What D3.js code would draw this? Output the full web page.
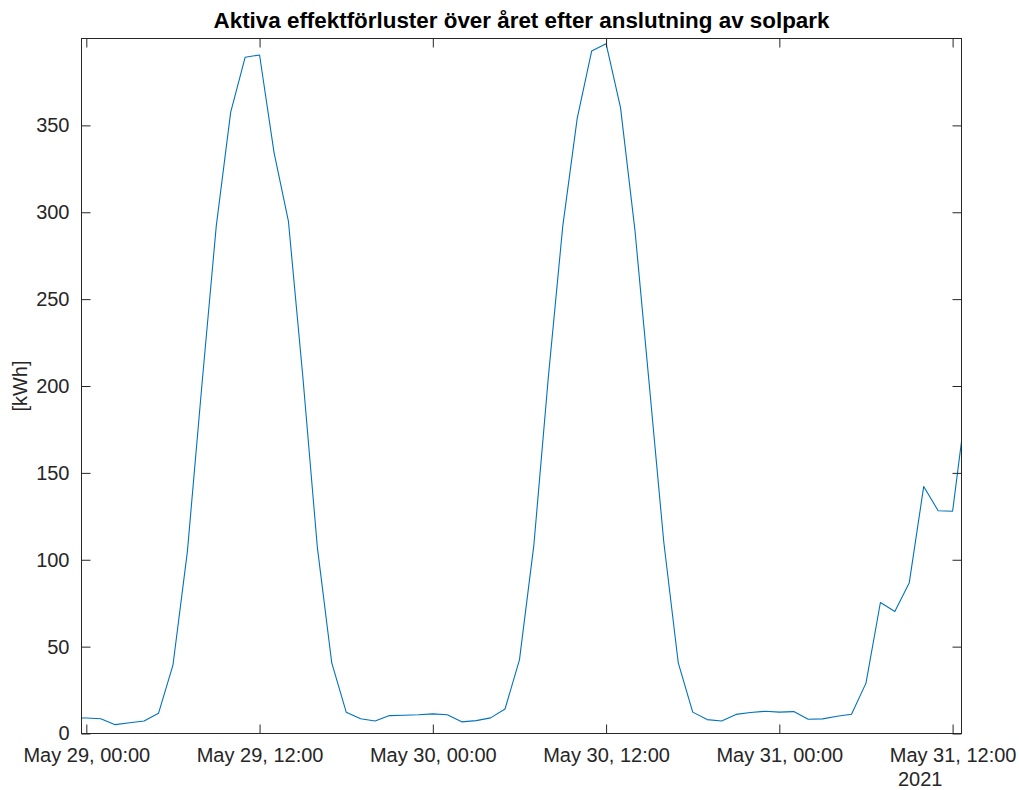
<!DOCTYPE html>
<html>
<head>
<meta charset="utf-8">
<script src="https://cdn.jsdelivr.net/npm/d3@7/dist/d3.min.js"></script>
<style>
  html, body { margin: 0; padding: 0; background: #fff; }
  svg { display: block; font-family: "Liberation Sans", Arial, Helvetica, sans-serif; }
</style>
</head>
<body>
<svg id="chart" width="1019" height="790"></svg>
<script>
// Hourly active power losses (kWh), starting May 28 23:00 UTC
const startHour = Date.UTC(2021, 4, 28, 23);
const lossValues = [
  9.0, 8.9, 8.5, 5.1, 6.2, 7.2, 11.6, 39.3, 104.7, 200, 292,
  357.6, 389.2, 390.5, 334.5, 294.7, 205, 107.3, 40.6, 12.3, 8.5,
  7.2, 10.3, 10.5, 10.8, 11.3, 10.8, 6.7, 7.4, 9.0, 14.1,
  42.4, 108.6, 205, 292, 354, 392.8, 397, 360.2, 289.6, 200,
  109.9, 40.6, 12.3, 8.0, 7.2, 11.0, 12.1, 12.8, 12.3, 12.6,
  8.2, 8.4, 9.9, 11.1, 29.0, 75.4, 70.2, 86.8, 142.2, 128.2,
  127.9, 193
];
const yTicks = [0, 50, 100, 150, 200, 250, 300, 350];
const xTickDates = [
  Date.UTC(2021, 4, 29, 0), Date.UTC(2021, 4, 29, 12),
  Date.UTC(2021, 4, 30, 0), Date.UTC(2021, 4, 30, 12),
  Date.UTC(2021, 4, 31, 0), Date.UTC(2021, 4, 31, 12)
].map(t => new Date(t));
const xLimits = [new Date(Date.UTC(2021, 4, 28, 23, 40)), new Date(Date.UTC(2021, 4, 31, 12, 37))];
const yLimits = [0, 400];
const titleText = "Aktiva effektförluster över året efter anslutning av solpark";
const yLabelText = "[kWh]";
const yearText = "2021";

const data = lossValues.map((v, i) => ({ t: new Date(startHour + i * 3600e3), v }));

const svg = d3.select("#chart");
const box = { left: 81.5, right: 961.5, top: 38.5, bottom: 733.5 };
const axisColor = "#262626";

const x = d3.scaleUtc().domain(xLimits).range([box.left, box.right]);
const y = d3.scaleLinear().domain(yLimits).range([box.bottom, box.top]);

const monthNames = ["Jan","Feb","Mar","Apr","May","Jun","Jul","Aug","Sep","Oct","Nov","Dec"];
const fmtTick = d => `${monthNames[d.getUTCMonth()]} ${d.getUTCDate()}, ${d3.utcFormat("%H:%M")(d)}`;

svg.append("defs").append("clipPath").attr("id", "plotClip")
  .append("rect")
  .attr("x", box.left).attr("y", box.top)
  .attr("width", box.right - box.left).attr("height", box.bottom - box.top);

// data line
const line = d3.line().x(d => x(d.t)).y(d => y(d.v));
svg.append("path")
  .datum(data)
  .attr("clip-path", "url(#plotClip)")
  .attr("fill", "none")
  .attr("stroke", "#0072BD")
  .attr("stroke-width", 1.1)
  .attr("stroke-linejoin", "round")
  .attr("d", line);

const tickLen = 9;
const fontSize = 20;

// bottom axis (ticks pointing inward)
const xBottom = d3.axisBottom(x).tickValues(xTickDates).tickSize(-tickLen).tickPadding(14).tickFormat(fmtTick);
const gxb = svg.append("g").attr("transform", `translate(0,${box.bottom})`).call(xBottom);
// top axis ticks only
const xTop = d3.axisTop(x).tickValues(xTickDates).tickSize(-tickLen).tickFormat("");
const gxt = svg.append("g").attr("transform", `translate(0,${box.top})`).call(xTop);
// left axis
const yLeft = d3.axisLeft(y).tickValues(yTicks).tickSize(-tickLen).tickPadding(12).tickFormat(d3.format("d"));
const gyl = svg.append("g").attr("transform", `translate(${box.left},0)`).call(yLeft);
// right axis ticks only
const yRight = d3.axisRight(y).tickValues(yTicks).tickSize(-tickLen).tickFormat("");
const gyr = svg.append("g").attr("transform", `translate(${box.right},0)`).call(yRight);

[gxb, gxt, gyl, gyr].forEach(g => {
  g.select(".domain").remove();
  g.selectAll(".tick line").attr("stroke", axisColor);
  g.selectAll(".tick text")
    .attr("fill", axisColor)
    .style("font-size", fontSize + "px")
    .style("font-family", "\"Liberation Sans\", Arial, Helvetica, sans-serif");
});
gxb.selectAll(".tick text").attr("dy", "0.71em");

// axes box
svg.append("rect")
  .attr("x", box.left).attr("y", box.top)
  .attr("width", box.right - box.left).attr("height", box.bottom - box.top)
  .attr("fill", "none").attr("stroke", axisColor).attr("stroke-width", 1);

// secondary year label
svg.append("text")
  .attr("x", box.right - 19).attr("y", 786)
  .attr("text-anchor", "end")
  .attr("fill", axisColor)
  .style("font-size", fontSize + "px")
  .text(yearText);

// y axis label
svg.append("text")
  .attr("transform", `translate(27,${(box.top + box.bottom) / 2}) rotate(-90)`)
  .attr("text-anchor", "middle")
  .attr("fill", axisColor)
  .style("font-size", fontSize + "px")
  .text(yLabelText);

// title
svg.append("text")
  .attr("x", (box.left + box.right) / 2).attr("y", 28)
  .attr("text-anchor", "middle")
  .attr("fill", "#000")
  .style("font-size", "22.4px")
  .style("font-weight", "bold")
  .text(titleText);
</script>
</body>
</html>
